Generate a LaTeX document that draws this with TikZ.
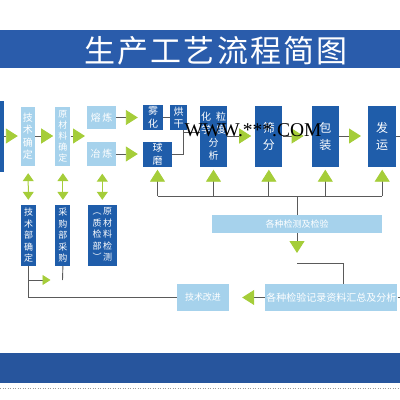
\documentclass[tikz,border=0pt]{standalone}
\usepackage{fontspec}
\setmainfont{Noto Sans CJK SC}
\newfontfamily\titlefont[LetterSpace=7]{Noto Sans CJK SC}
\newfontfamily\urlfont{Liberation Serif}
\usetikzlibrary{positioning, arrows.meta}
\definecolor{bandblue}{HTML}{2A5CAB}
\definecolor{dkblue}{HTML}{1F5DAA}
\definecolor{ltblue}{HTML}{A6D2EC}
\definecolor{tipgreen}{HTML}{A5CD39}
\definecolor{linegray}{HTML}{5A5A5A}

\begin{document}
\begin{tikzpicture}[x=1pt, y=-1pt,
    dkbox/.style={fill=dkblue, text=white, inner sep=0pt, align=center,
                  font=\fontsize{10}{12.5}\selectfont},
    ltbox/.style={fill=ltblue, text=white, inner sep=0pt, align=center,
                  font=\fontsize{10}{12.5}\selectfont},
    bar/.style={fill=ltblue, text=white, inner sep=0pt, align=center,
                font=\fontsize{9}{11}\selectfont},
    conn/.style={draw=linegray, line width=0.9pt},
    flow/.style={conn, -{Triangle[length=12pt, width=15pt, color=tipgreen]}},
    small/.style={conn, -{Triangle[length=8pt, width=10pt, color=tipgreen]}},
    both/.style={draw=tipgreen, line width=1pt,
                 {Triangle[length=8pt, width=11pt]}-{Triangle[length=8pt, width=11pt]},
                 shorten <=7.5pt, shorten >=5pt},
]
\useasboundingbox (0,0) rectangle (400,400);
\clip (0,0) rectangle (400,400);

% Title and bottom bands
\fill[bandblue] (0,30) rectangle (400,68);
\fill[bandblue!92!black] (0,353) rectangle (400,383);
\draw[linegray!60, line width=1pt, dash pattern=on 1pt off 1.5pt] (0,388) -- (400,388);
\node[font=\titlefont\fontsize{31}{31}\selectfont, text=white, inner sep=0pt] (title) at (216,51) {生产工艺流程简图};

% Main row
\node[dkbox, minimum width=14pt, minimum height=71pt] (prev) at (-3,136) {};
\node[ltbox, minimum width=14pt, minimum height=59pt] (jishu) at (28,136) {技\\术\\确\\定};
\node[ltbox, minimum width=15pt, minimum height=59pt, right=20pt of jishu,
      font=\fontsize{9}{11}\selectfont] (yuancai) {原\\材\\料\\确\\定};
\node[ltbox, minimum width=29pt, minimum height=23pt] (ronglian) at (101.5,117.5) {熔\,炼};
\node[ltbox, minimum width=29pt, minimum height=24pt] (yelian) at (101.5,154) {冶\,炼};
\node[dkbox, minimum width=20pt, minimum height=25pt] (wuhua) at (153,117.5) {雾\\化};
\node[dkbox, minimum width=17pt, minimum height=25pt] (honggan) at (178.5,117.5) {烘\\干};
\node[dkbox, minimum width=29pt, minimum height=25pt] (qiumo) at (157.5,154) {球\\磨};
\node[dkbox, minimum width=27pt, minimum height=61pt,
      font=\fontsize{10}{13}\selectfont] (huaxue) at (213.5,136) {化\enspace 粒\\学\enspace 度\\分\\析};
\node[dkbox, minimum width=27pt, minimum height=61pt, right=28pt of huaxue,
      font=\fontsize{12}{17}\selectfont] (shaifen) {筛\\分};
\node[dkbox, minimum width=27pt, minimum height=61pt, right=29pt of shaifen,
      font=\fontsize{12}{17}\selectfont] (baozhuang) {包\\装};
\node[dkbox, minimum width=28pt, minimum height=61pt, right=29pt of baozhuang,
      font=\fontsize{12}{17}\selectfont] (fayun) {发\\运};

% Departments
\node[dkbox, minimum width=15pt, minimum height=61pt,
      font=\fontsize{9}{11.5}\selectfont] (jsb) at (28.5,235.5) {技\\术\\部\\确\\定};
\node[dkbox, minimum width=15pt, minimum height=61pt, right=19pt of jsb,
      font=\fontsize{9}{11.5}\selectfont] (cgb) {采\\购\\部\\采\\购};
\node[dkbox, minimum width=29pt, minimum height=61pt, right=17pt of cgb,
      font=\fontsize{9}{11.5}\selectfont] (yljc)
  {\begin{tabular}[t]{@{}c@{}}︵\\质\\检\\部\\︶\end{tabular}\,%
   \begin{tabular}[t]{@{}c@{}}原\\材\\料\\检\\测\end{tabular}};

% Inspection bars
\node[bar, minimum width=170pt, minimum height=18pt] (jiance) at (297,224) {各种检测及检验};
\node[bar, minimum width=52pt, minimum height=27pt] (gaijin) at (203,297.5) {技术改进};
\node[bar, minimum width=132pt, minimum height=27pt, right=36pt of gaijin,
      font=\fontsize{10}{12}\selectfont] (jilu) {各种检验记录资料汇总及分析};

% Helper points
\coordinate (split) at (86,136);
\coordinate (merge) at (183,132);
\coordinate (bus) at (157.5,196);
\coordinate (bend) at (297,263);
\coordinate (jtop) at (343,263);
\coordinate (lpL) at (28.5,280);
\coordinate (lpR) at (62.5,280);
\coordinate (fedge) at (402,136);
\coordinate (redge) at (402,297.5);

% Main flow
\draw[flow, shorten >=3pt] (prev) -- (jishu);
\draw[flow, shorten >=2pt] (jishu) -- (yuancai);
\draw[flow, shorten >=1pt] (yuancai) -- (split);
\draw[flow, shorten >=5pt] (ronglian) -- (wuhua);
\draw[flow, shorten >=5pt] (yelian) -- (qiumo);
\draw[conn] (wuhua) -- (honggan);
\draw[conn] (honggan.south -| merge) -- (merge |- qiumo) -- (qiumo.east);
\draw[conn] (merge) -- (merge -| huaxue.west);
\draw[flow, shorten >=4pt] (huaxue) -- (shaifen);
\draw[flow, shorten >=8pt] (shaifen) -- (baozhuang);
\draw[flow, shorten >=7pt] (baozhuang) -- (fayun);
\draw[conn] (fayun) -- (fedge);

% Department links
\draw[both] (jishu) -- (jsb);
\draw[both] (yuancai) -- (cgb);
\draw[both] (yelian.south -| yljc) -- (yljc);
\draw[conn] (jsb.south) -- (lpL);
\draw[small, shorten >=12pt] (lpL) -- (lpR);
\draw[conn] (lpR) -- (cgb.south);

% Inspection feedback
\draw[conn] (qiumo |- bus) -- (fayun |- bus);
\foreach \n in {qiumo, huaxue, shaifen, baozhuang, fayun}
  \draw[flow, shorten >=3pt] (\n |- bus) -- (\n.south);
\draw[conn] (jiance.north |- bus) -- (jiance.north);
\draw[flow, shorten >=10pt] (jiance.south) -- (bend);
\draw[conn] (bend) -- (jtop) -- (jtop |- jilu.north);
\draw[flow, shorten >=13pt] (jilu.west) -- (gaijin.east);
\draw[conn] (jilu.east) -- (redge);
\draw[conn] (gaijin.west) -| (jsb.south);

% Watermark
\node[font=\urlfont\fontsize{19.5}{19.5}\selectfont, text=black, inner sep=0pt] (www) at (253,130) {WWW.***.COM};
\end{tikzpicture}
\end{document}
